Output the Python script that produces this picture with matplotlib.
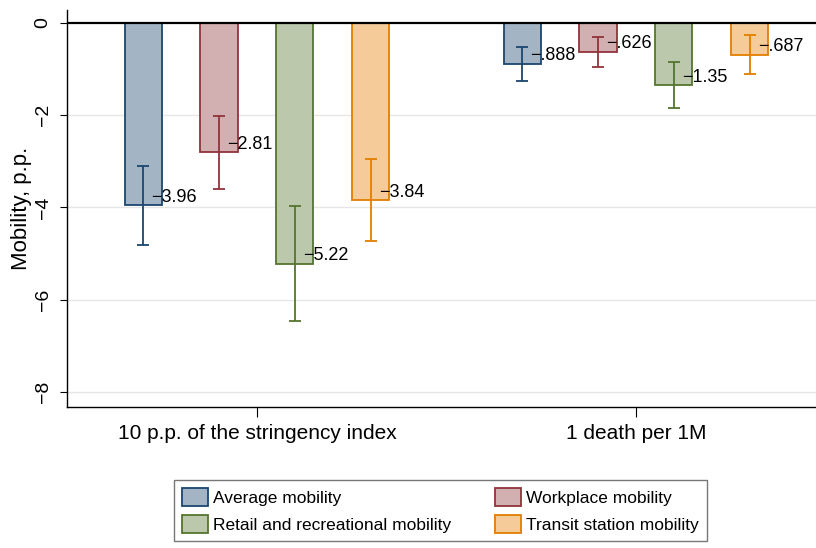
import numpy as np
import matplotlib.pyplot as plt
from matplotlib.patches import Patch

plt.rcParams["font.family"] = ["Liberation Sans", "DejaVu Sans"]

groups = ["10 p.p. of the stringency index", "1 death per 1M"]
series = ["Average mobility", "Workplace mobility",
          "Retail and recreational mobility", "Transit station mobility"]
values = [
    [-3.96, -0.888],
    [-2.81, -0.626],
    [-5.22, -1.35],
    [-3.84, -0.687],
]
errors = [
    [0.86, 0.37],
    [0.79, 0.32],
    [1.24, 0.50],
    [0.89, 0.42],
]
labels = [
    ["\u22123.96", "\u2212.888"],
    ["\u22122.81", "\u2212.626"],
    ["\u22125.22", "\u22121.35"],
    ["\u22123.84", "\u2212.687"],
]
edge_colors = ["#1a476f", "#90353b", "#55752f", "#e37e00"]
fill_colors = ["#a3b5c5", "#d2afb1", "#bbc8ac", "#f4cb99"]

fig = plt.figure(figsize=(8.16, 5.48), dpi=100)
ax = fig.add_axes([0.0821, 0.2573, 0.9179, 0.7245])

x = np.arange(len(groups))
offsets = [-0.3, -0.1, 0.1, 0.3]
width = 0.098

for i in range(len(series)):
    xs = x + offsets[i]
    ax.bar(xs, values[i], width=width, color=fill_colors[i],
           edgecolor=edge_colors[i], linewidth=1.3, zorder=2)
    ax.errorbar(xs, values[i], yerr=errors[i], fmt="none",
                ecolor=edge_colors[i], elinewidth=1.3, capsize=4,
                capthick=1.3, zorder=3)
    for xi, v, lab in zip(xs, values[i], labels[i]):
        ax.text(xi + 0.022, v + 0.17, lab, ha="left", va="center",
                fontsize=13, color="black", zorder=4)

ax.axhline(0, color="black", linewidth=1.6, zorder=3)
for yv in [-2, -4, -6, -8]:
    ax.axhline(yv, color="#e6e6e6", linewidth=1.0, zorder=0)

ax.set_xlim(-0.501, 1.475)
ax.set_ylim(-8.33, 0.28)
ax.set_yticks([0, -2, -4, -6, -8])
ax.set_yticklabels(["0", "\u22122", "\u22124", "\u22126", "\u22128"],
                   rotation=90, va="center", fontsize=14)
ax.set_xticks(x)
ax.set_xticklabels(groups, fontsize=15)
ax.tick_params(axis="x", length=7, width=0.8, pad=5)
ax.tick_params(axis="y", length=5, width=0.8, pad=6)
ax.set_ylabel("Mobility, p.p.", fontsize=16, labelpad=2)

ax.spines["top"].set_visible(False)
ax.spines["right"].set_visible(False)
ax.spines["left"].set_linewidth(1.0)
ax.spines["bottom"].set_linewidth(1.0)

order = [0, 2, 1, 3]
handles = [Patch(facecolor=fill_colors[i], edgecolor=edge_colors[i],
                 linewidth=1.3, label=series[i]) for i in order]
leg = fig.legend(handles=handles, ncol=2, loc="upper left",
                 bbox_to_anchor=(174 / 816, 1 - 480 / 548),
                 fontsize=12.5, frameon=True, fancybox=False,
                 edgecolor="#555555", handlelength=1.5, handleheight=1.2,
                 handletextpad=0.3, columnspacing=2.5, labelspacing=0.52,
                 borderpad=0.46, borderaxespad=0)
leg.get_frame().set_linewidth(1.0)

fig.savefig("out.png", dpi=100)
